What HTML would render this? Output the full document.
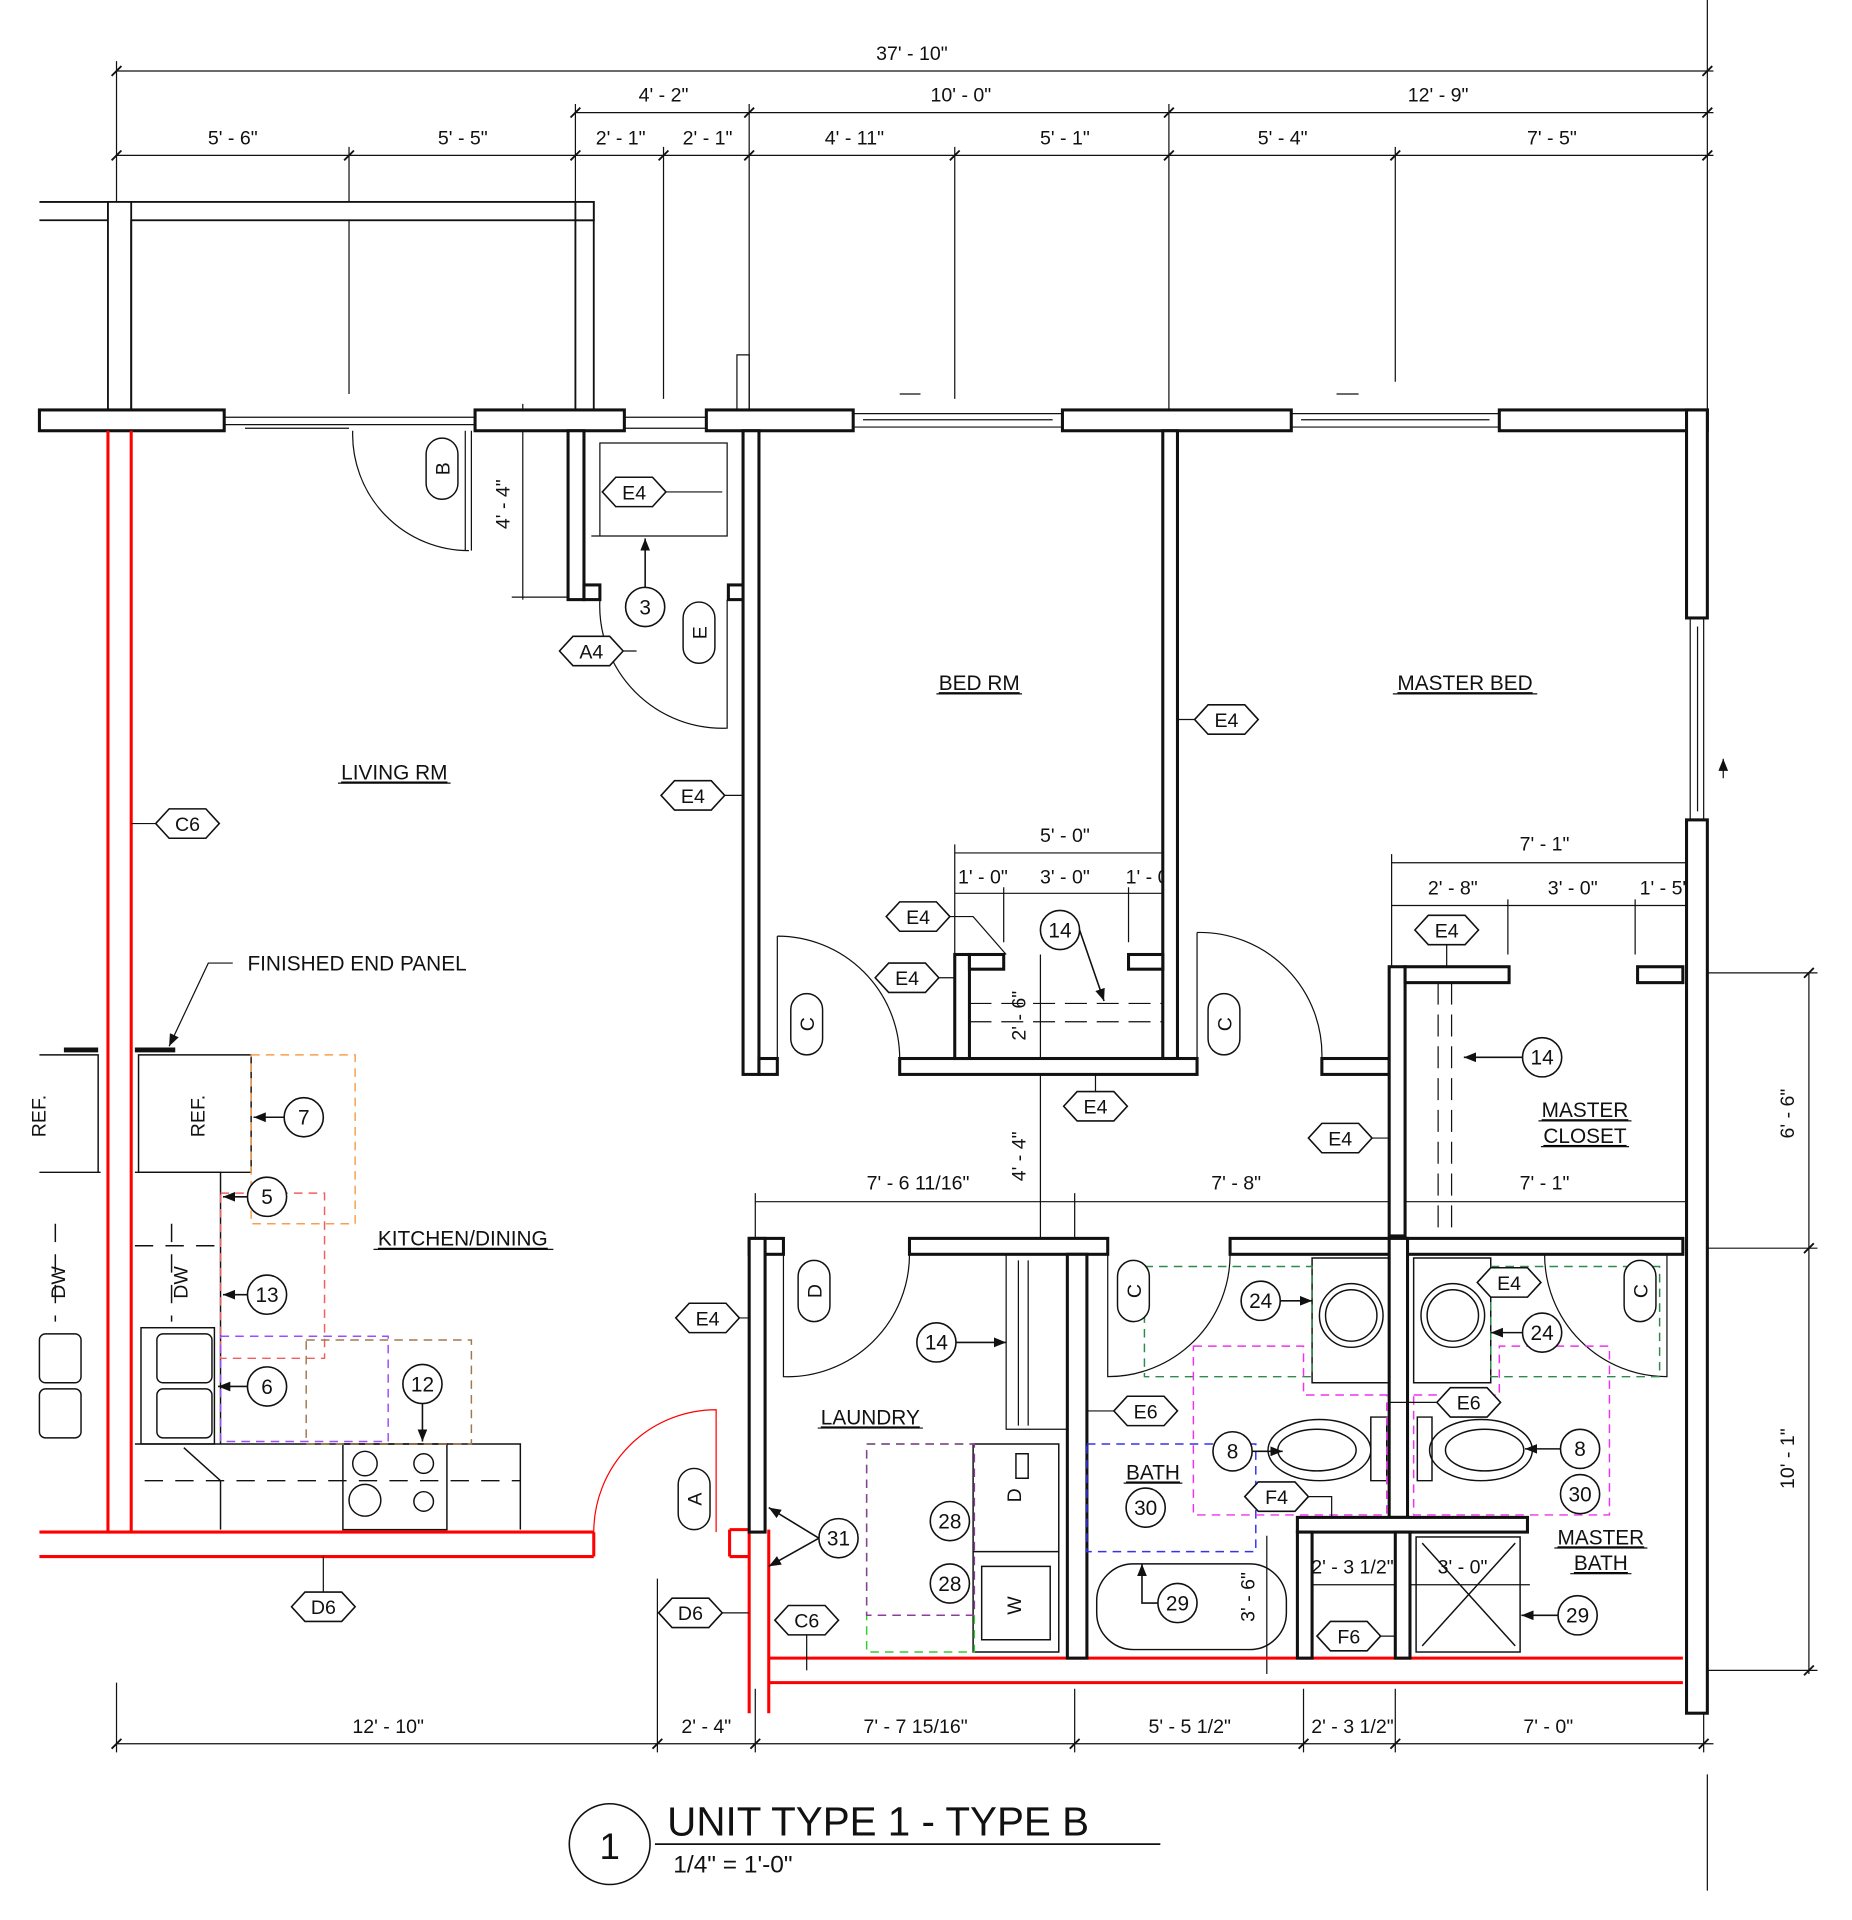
<!DOCTYPE html>
<html><head><meta charset="utf-8"><style>
html,body{margin:0;padding:0;background:#fff}
svg{display:block}
text{font-family:"Liberation Sans",sans-serif;fill:#111}
</style></head><body>
<svg width="1852" height="1920" viewBox="0 0 1513 1569" xmlns="http://www.w3.org/2000/svg">
<defs>
<polygon id="hx" points="-26,0 -15,-12 15,-12 26,0 15,12 -15,12" fill="#fff" stroke="#111" stroke-width="1.3"/>
<marker id="ar" markerWidth="10" markerHeight="8" refX="10" refY="4" orient="auto" markerUnits="userSpaceOnUse"><path d="M0,0 L10,4 L0,8z" fill="#111"/></marker>
</defs>
<g stroke="#111" stroke-width="1" fill="none">
<line x1="95" y1="58" x2="1400" y2="58"/>
<line x1="470" y1="92" x2="1400" y2="92"/>
<line x1="95" y1="127" x2="1400" y2="127"/>
<line x1="95" y1="50" x2="95" y2="330"/>
<line x1="1395" y1="0" x2="1395" y2="335"/>
<line x1="470" y1="85" x2="470" y2="335"/>
<line x1="612" y1="85" x2="612" y2="335"/>
<line x1="955" y1="85" x2="955" y2="335"/>
<line x1="285" y1="120" x2="285" y2="322"/>
<line x1="542" y1="120" x2="542" y2="326"/>
<line x1="780" y1="120" x2="780" y2="326"/>
<line x1="1140" y1="120" x2="1140" y2="312"/>
<g stroke-width="1.5">
<path d="M91,62 l8,-8 M91,131 l8,-8 M466,96 l8,-8 M466,131 l8,-8 M608,96 l8,-8 M608,131 l8,-8 M951,96 l8,-8 M951,131 l8,-8 M1391,62 l8,-8 M1391,96 l8,-8 M1391,131 l8,-8 M281,131 l8,-8 M538,131 l8,-8 M776,131 l8,-8 M1136,131 l8,-8"/>
</g>
<line x1="95" y1="1425" x2="1400" y2="1425"/>
<path d="M95,1375 V1432 M537,1290 V1432 M617,1380 V1432 M878,1380 V1432 M1065,1380 V1432 M1140,1380 V1432 M1392,1380 V1432 M1395,1450 V1545"/>
<path stroke-width="1.5" d="M91,1429 l8,-8 M533,1429 l8,-8 M613,1429 l8,-8 M874,1429 l8,-8 M1061,1429 l8,-8 M1136,1429 l8,-8 M1388,1429 l8,-8"/>
<line x1="1478" y1="795" x2="1478" y2="1368"/>
<path d="M1395,795 H1485 M1395,1020 H1485 M1395,1365 H1485"/>
<path stroke-width="1.5" d="M1474,799 l8,-8 M1474,1024 l8,-8 M1474,1369 l8,-8"/>
<line x1="780" y1="697" x2="962" y2="697"/>
<line x1="780" y1="730" x2="962" y2="730"/>
<path d="M780,690 V780 M820,725 V770 M922,725 V770 M950,690 V780 M962,690 V760"/>
<line x1="1137" y1="705" x2="1385" y2="705"/>
<line x1="1137" y1="740" x2="1385" y2="740"/>
<path d="M1137,698 V790 M1232,735 V780 M1336,735 V780"/>
<line x1="617" y1="982" x2="1392" y2="982"/>
<path d="M617,975 V1012 M878,975 V1012"/>
<line x1="850" y1="780" x2="850" y2="1025"/>
<line x1="427" y1="330" x2="427" y2="490"/>
<path d="M418,335 H470 M418,488 H470"/>
<line x1="1035" y1="1255" x2="1035" y2="1368"/>
<line x1="1065" y1="1295" x2="1140" y2="1295"/>
<line x1="1140" y1="1295" x2="1250" y2="1295"/>
</g>
<g font-size="16" text-anchor="middle">
<text x="745" y="49">37' - 10"</text>
<text x="542" y="83">4' - 2"</text><text x="785" y="83">10' - 0"</text><text x="1175" y="83">12' - 9"</text>
<text x="190" y="118">5' - 6"</text><text x="378" y="118">5' - 5"</text><text x="507" y="118">2' - 1"</text><text x="578" y="118">2' - 1"</text>
<text x="698" y="118">4' - 11"</text><text x="870" y="118">5' - 1"</text><text x="1048" y="118">5' - 4"</text><text x="1268" y="118">7' - 5"</text>
<text x="317" y="1416">12' - 10"</text><text x="577" y="1416">2' - 4"</text><text x="748" y="1416">7' - 7 15/16"</text><text x="972" y="1416">5' - 5 1/2"</text><text x="1105" y="1416">2' - 3 1/2"</text><text x="1265" y="1416">7' - 0"</text>
<text x="870" y="688">5' - 0"</text><text x="803" y="722">1' - 0"</text><text x="870" y="722">3' - 0"</text><text x="940" y="722">1' - 0"</text>
<text x="1262" y="695">7' - 1"</text><text x="1187" y="731">2' - 8"</text><text x="1285" y="731">3' - 0"</text><text x="1360" y="731">1' - 5"</text>
<text x="750" y="972">7' - 6 11/16"</text><text x="1010" y="972">7' - 8"</text><text x="1262" y="972">7' - 1"</text>
<text x="1105" y="1286">2' - 3 1/2"</text><text x="1195" y="1286">3' - 0"</text>
<text transform="translate(1466,910) rotate(-90)">6' - 6"</text>
<text transform="translate(1466,1192) rotate(-90)">10' - 1"</text>
<text transform="translate(416,412) rotate(-90)">4' - 4"</text>
<text transform="translate(838,945) rotate(-90)">4' - 4"</text>
<text transform="translate(838,830) rotate(-90)">2' - 6"</text>
<text transform="translate(1025,1305) rotate(-90)">3' - 6"</text>
</g>
<g stroke="#111" stroke-width="1.5" fill="#fff">
<path d="M32,165 H88 M32,180 H88" fill="none"/>
<rect x="88" y="165" width="397" height="15"/>
<rect x="88" y="165" width="19" height="170"/>
<rect x="470" y="165" width="15" height="15"/>
<line x1="107" y1="180" x2="107" y2="335"/>
<line x1="470" y1="180" x2="470" y2="335"/>
<line x1="485" y1="180" x2="485" y2="335"/>
</g>
<g stroke="#111" stroke-width="2.5" fill="#fff">
<rect x="32" y="335" width="151" height="17"/>
<rect x="388" y="335" width="122" height="17"/>
<rect x="577" y="335" width="120" height="17"/>
<rect x="868" y="335" width="187" height="17"/>
<rect x="1225" y="335" width="170" height="17"/>
<rect x="1378" y="335" width="17" height="170"/>
<rect x="1378" y="670" width="17" height="730"/>
</g>
<g stroke="#111" stroke-width="1" fill="none">
<path d="M183,341 H388 M183,347 H388 M200,350 H285 M510,341 H577 M510,350 H577 M697,338 H868 M697,349 H868 M705,343 H860 M1055,338 H1225 M1055,349 H1225 M1063,343 H1217 M1381,505 V670 M1392,505 V670 M1387,512 V663"/>
<path d="M602,290 H612 V335 H602 Z"/>
<path d="M735,322 H752 M1092,322 H1110 M1408,636 V620" marker-end="url(#ar)"/>
</g>
<g stroke="#f00" stroke-width="2.5" fill="none">
<path d="M88,352 V1252 M107,352 V1252"/>
<path d="M32,1252 H485 M32,1272 H485 M485,1252 V1272"/>
<path d="M612,1250 V1400 M628,1250 V1400 M596,1250 H612 M596,1272 H612 M596,1250 V1272"/>
<path d="M628,1355 H1375 M628,1375 H1375"/>
<path stroke-width="1" d="M485,1252 A100,100 0 0 1 585,1152 V1252"/>
</g>
<g stroke="#111" stroke-width="2.5" fill="#fff">
<rect x="464" y="352" width="13" height="138"/>
<rect x="477" y="478" width="13" height="12"/>
<rect x="595" y="478" width="13" height="12"/>
<rect x="607" y="352" width="13" height="526"/>
<rect x="620" y="865" width="15" height="13"/>
<rect x="950" y="352" width="12" height="513"/>
<rect x="735" y="865" width="243" height="13"/>
<rect x="780" y="780" width="12" height="85"/>
<rect x="792" y="780" width="28" height="12"/>
<rect x="922" y="780" width="28" height="12"/>
<rect x="1080" y="865" width="55" height="13"/>
<rect x="1135" y="790" width="13" height="220"/>
<rect x="1148" y="790" width="85" height="13"/>
<rect x="1338" y="790" width="37" height="13"/>
<rect x="612" y="1012" width="28" height="13"/>
<rect x="612" y="1012" width="13" height="240"/>
<rect x="743" y="1012" width="162" height="13"/>
<rect x="872" y="1025" width="16" height="330"/>
<rect x="1005" y="1012" width="370" height="13"/>
<rect x="1135" y="1012" width="15" height="228"/>
<rect x="1060" y="1240" width="188" height="12"/>
<rect x="1060" y="1252" width="12" height="103"/>
<rect x="1140" y="1252" width="12" height="103"/>
</g>
<g stroke="#111" stroke-width="1" fill="none">
<path d="M288,352 A95,95 0 0 0 383,450 M380,352 V450 M385,352 V450"/>
<path d="M490,490 A100,100 0 0 0 594,595 V490"/>
<path d="M635,765 V865 M635,765 A100,100 0 0 1 735,865"/>
<path d="M978,762 V865 M978,762 A100,100 0 0 1 1080,865"/>
<path d="M640,1025 V1125 A100,100 0 0 0 743,1025"/>
<path d="M905,1025 V1125 A100,100 0 0 0 1005,1025"/>
<path d="M1362,1025 V1125 A100,100 0 0 1 1262,1025"/>
<path d="M490,362 H594 V438 H490 Z M483,438 H500"/>
<path d="M1175,803 V1010 M1186,803 V1010" stroke-dasharray="18,8"/>
<path d="M792,820 H950 M792,835 H950" stroke-dasharray="18,8"/>
<path d="M822,1025 V1168 H872 M832,1030 V1165 M840,1030 V1165" />
</g>
<g stroke="#111" stroke-width="1.2" fill="none">
<path d="M52,858 H80 M110,858 H143" stroke-width="4"/>
<path d="M32,862 H80 V958 M113,862 H205 V958 H113 Z"/>
<path d="M32,958 H82 M110,958 H180 V1180 H425 V1250 M110,1180 H180"/>
<rect x="115" y="1085" width="60" height="95"/>
<rect x="128" y="1090" width="45" height="40" rx="5"/><rect x="128" y="1135" width="45" height="40" rx="5"/>
<rect x="32" y="1090" width="34" height="40" rx="5"/><rect x="32" y="1135" width="34" height="40" rx="5"/>
<rect x="280" y="1180" width="85" height="70"/>
<circle cx="298" cy="1196" r="10"/><circle cx="346" cy="1196" r="8"/><circle cx="298" cy="1226" r="13"/><circle cx="346" cy="1227" r="8"/>
<path d="M118,1210 H425" stroke-dasharray="15,10"/>
<path d="M45,1000 V1080 M140,1000 V1080 M110,1018 H180" stroke-dasharray="15,10"/>
<path d="M150,1183 L180,1210 V1250"/>
<path d="M795,1180 H865 V1350 H795 Z M795,1268 H865 M802,1280 H858 V1340 H802 Z M830,1188 H840 V1208 H830 Z"/>
<path d="M1072,1028 H1135 V1130 H1072 Z M1155,1028 H1218 V1130 H1155 Z"/>
<circle cx="1104" cy="1075" r="26"/><circle cx="1104" cy="1075" r="21"/>
<circle cx="1187" cy="1075" r="26"/><circle cx="1187" cy="1075" r="21"/>
<path d="M1133,1158 V1210 H1120 V1158 Z"/><ellipse cx="1078" cy="1185" rx="42" ry="25"/><ellipse cx="1076" cy="1185" rx="32" ry="17"/>
<path d="M1158,1158 V1210 H1170 V1158 Z"/><ellipse cx="1210" cy="1185" rx="42" ry="25"/><ellipse cx="1213" cy="1185" rx="32" ry="17"/>
<rect x="896" y="1278" width="155" height="70" rx="30"/>
<rect x="1157" y="1256" width="85" height="94"/><path d="M1162,1261 L1238,1345 M1238,1261 L1162,1345"/>
</g>
<g fill="none" stroke-width="1.2" stroke-dasharray="7,5">
<rect x="205" y="862" width="85" height="138" stroke="#f5a050"/>
<rect x="180" y="975" width="85" height="135" stroke="#f06060"/>
<rect x="180" y="1092" width="137" height="86" stroke="#9b4dff"/>
<rect x="250" y="1095" width="135" height="85" stroke="#a07850"/>
<rect x="708" y="1180" width="88" height="170" stroke="#33cc33"/>
<rect x="708" y="1180" width="88" height="140" stroke="#8e3d9c"/>
<rect x="888" y="1180" width="138" height="88" stroke="#3333ee"/>
<rect x="935" y="1035" width="137" height="90" stroke="#2d8a4c"/>
<rect x="1218" y="1035" width="138" height="90" stroke="#2d8a4c"/>
<path d="M975,1100 H1065 V1140 H1133 V1238 H975 Z" stroke="#ee33ee"/>
<path d="M1155,1140 H1225 V1100 H1315 V1238 H1155 Z" stroke="#ee33ee"/>
</g>
<g font-size="16" text-anchor="middle">
<g transform="translate(153,673)"><use href="#hx"/><text y="6">C6</text></g>
<g transform="translate(518,402)"><use href="#hx"/><text y="6">E4</text></g>
<g transform="translate(483,532)"><use href="#hx"/><text y="6">A4</text></g>
<g transform="translate(566,650)"><use href="#hx"/><text y="6">E4</text></g>
<g transform="translate(1002,588)"><use href="#hx"/><text y="6">E4</text></g>
<g transform="translate(750,749)"><use href="#hx"/><text y="6">E4</text></g>
<g transform="translate(741,799)"><use href="#hx"/><text y="6">E4</text></g>
<g transform="translate(1182,760)"><use href="#hx"/><text y="6">E4</text></g>
<g transform="translate(895,904)"><use href="#hx"/><text y="6">E4</text></g>
<g transform="translate(1095,930)"><use href="#hx"/><text y="6">E4</text></g>
<g transform="translate(578,1077)"><use href="#hx"/><text y="6">E4</text></g>
<g transform="translate(1233,1048)"><use href="#hx"/><text y="6">E4</text></g>
<g transform="translate(936,1153)"><use href="#hx"/><text y="6">E6</text></g>
<g transform="translate(1200,1146)"><use href="#hx"/><text y="6">E6</text></g>
<g transform="translate(1043,1223)"><use href="#hx"/><text y="6">F4</text></g>
<g transform="translate(1102,1337)"><use href="#hx"/><text y="6">F6</text></g>
<g transform="translate(264,1313)"><use href="#hx"/><text y="6">D6</text></g>
<g transform="translate(564,1318)"><use href="#hx"/><text y="6">D6</text></g>
<g transform="translate(659,1324)"><use href="#hx"/><text y="6">C6</text></g>
</g>
<g stroke="#111" stroke-width="1" fill="none">
<path d="M544,402 H590 M509,532 H520 M592,650 H607 M962,588 H976 M776,749 H795 L822,780 M767,799 H780 M1182,772 V790 M895,878 V892 M1121,930 H1135 M604,1077 H612 M888,1153 H910 M1136,1146 H1174 M1069,1223 H1088 V1240 M1128,1337 H1140 M264,1272 V1301 M590,1318 H612 M659,1336 V1365 M107,673 H127"/>
<path d="M190,787 H170 L138,855" marker-end="url(#ar)"/>
</g>
<g font-size="17" text-anchor="middle" stroke="#111" stroke-width="1.3">
<g fill="#fff">
<circle cx="527" cy="496" r="16"/><circle cx="866" cy="760" r="16"/><circle cx="1260" cy="864" r="16"/>
<circle cx="248" cy="913" r="16"/><circle cx="218" cy="978" r="16"/><circle cx="218" cy="1058" r="16"/><circle cx="218" cy="1133" r="16"/><circle cx="345" cy="1131" r="16"/>
<circle cx="765" cy="1097" r="16"/><circle cx="685" cy="1257" r="16"/><circle cx="776" cy="1243" r="16"/><circle cx="776" cy="1294" r="16"/>
<circle cx="1030" cy="1063" r="16"/><circle cx="1260" cy="1089" r="16"/><circle cx="1007" cy="1186" r="16"/><circle cx="1291" cy="1184" r="16"/>
<circle cx="936" cy="1232" r="16"/><circle cx="1291" cy="1221" r="16"/><circle cx="962" cy="1310" r="16"/><circle cx="1289" cy="1320" r="16"/>
<circle cx="498" cy="1507" r="33"/>
</g>
<g fill="none" marker-end="url(#ar)">
<path d="M527,480 V440"/><path d="M882,760 L902,818"/><path d="M1244,864 H1196"/>
<path d="M232,913 H207"/><path d="M202,978 H182"/><path d="M202,1058 H182"/><path d="M202,1133 H178"/><path d="M345,1147 V1178"/>
<path d="M781,1097 H822"/><path d="M669,1257 L628,1232"/><path d="M669,1257 L628,1280"/>
<path d="M1046,1063 H1072"/><path d="M1244,1089 H1218"/><path d="M1023,1186 H1048"/><path d="M1275,1184 H1246"/>
<path d="M946,1310 H933 V1278"/><path d="M1273,1320 H1243"/>
</g>
</g>
<g font-size="17" text-anchor="middle">
<text x="527" y="502">3</text><text x="866" y="766">14</text><text x="1260" y="870">14</text>
<text x="248" y="919">7</text><text x="218" y="984">5</text><text x="218" y="1064">13</text><text x="218" y="1139">6</text><text x="345" y="1137">12</text>
<text x="765" y="1103">14</text><text x="685" y="1263">31</text><text x="776" y="1249">28</text><text x="776" y="1300">28</text>
<text x="1030" y="1069">24</text><text x="1260" y="1095">24</text><text x="1007" y="1192">8</text><text x="1291" y="1190">8</text>
<text x="936" y="1238">30</text><text x="1291" y="1227">30</text><text x="962" y="1316">29</text><text x="1289" y="1326">29</text>
</g>
<g stroke="#111" stroke-width="1.2" fill="#fff">
<rect x="348" y="358" width="26" height="50" rx="13"/><rect x="558" y="492" width="26" height="50" rx="13"/>
<rect x="646" y="812" width="26" height="50" rx="13"/><rect x="987" y="812" width="26" height="50" rx="13"/>
<rect x="652" y="1030" width="26" height="50" rx="13"/><rect x="913" y="1030" width="26" height="50" rx="13"/>
<rect x="1327" y="1030" width="26" height="50" rx="13"/><rect x="554" y="1200" width="26" height="50" rx="13"/>
</g>
<g font-size="16" text-anchor="middle">
<text transform="translate(367,383) rotate(-90)">B</text>
<text transform="translate(577,517) rotate(-90)">E</text>
<text transform="translate(665,837) rotate(-90)">C</text>
<text transform="translate(1006,837) rotate(-90)">C</text>
<text transform="translate(671,1055) rotate(-90)">D</text>
<text transform="translate(932,1055) rotate(-90)">C</text>
<text transform="translate(1346,1055) rotate(-90)">C</text>
<text transform="translate(573,1225) rotate(-90)">A</text>
<text transform="translate(167,912) rotate(-90)">REF.</text>
<text transform="translate(37,912) rotate(-90)">REF.</text>
<text transform="translate(153,1048) rotate(-90)">DW</text>
<text transform="translate(53,1048) rotate(-90)">DW</text>
<text transform="translate(834,1222) rotate(-90)">D</text>
<text transform="translate(834,1312) rotate(-90)">W</text>
</g>
<g font-size="17" text-anchor="middle" text-decoration="underline">
<text x="322" y="637">LIVING RM</text>
<text x="800" y="564">BED RM</text>
<text x="1197" y="564">MASTER BED</text>
<text x="1295" y="913">MASTER</text><text x="1295" y="934">CLOSET</text>
<text x="378" y="1018">KITCHEN/DINING</text>
<text x="711" y="1164">LAUNDRY</text>
<text x="942" y="1209">BATH</text>
<text x="1308" y="1262">MASTER</text><text x="1308" y="1283">BATH</text>
</g>
<g stroke="#111" stroke-width="1"><path d="M276,640 H368 M765,567 H835 M1138,567 H1256 M1257,916 H1333 M1259,937 H1331 M305,1021 H452 M668,1167 H754 M918,1212 H966 M1270,1265 H1346 M1283,1286 H1333"/></g>
<text x="202" y="793" font-size="17">FINISHED END PANEL</text>
<text x="498" y="1519" font-size="30" text-anchor="middle">1</text>
<text x="545" y="1500" font-size="33">UNIT TYPE 1 - TYPE B</text>
<line x1="535" y1="1507" x2="948" y2="1507" stroke="#111" stroke-width="1.5"/>
<text x="550" y="1530" font-size="20">1/4" = 1'-0"</text>
</svg>
</body></html>
